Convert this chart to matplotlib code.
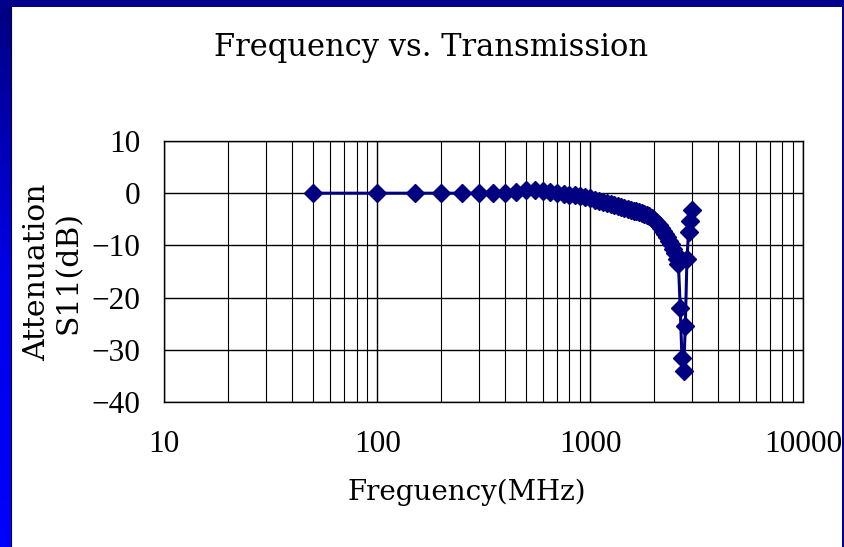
import numpy as np
import matplotlib
matplotlib.use("Agg")
import matplotlib.pyplot as plt
from matplotlib.colors import LinearSegmentedColormap

# measured points (MHz, dB)
freq = [50, 100, 150, 200, 250, 300, 350, 400, 450, 500,
        550, 600, 650, 700, 750, 800, 850, 900, 950, 1000,
        1050, 1100, 1150, 1200, 1250, 1300, 1350, 1400, 1450, 1500,
        1550, 1600, 1650, 1700, 1750, 1800, 1850, 1900, 1950, 2000,
        2050, 2100, 2150, 2200, 2250, 2300, 2350, 2400, 2450, 2500,
        2550, 2600, 2650, 2700, 2750, 2800, 2850, 2900, 2950, 3000]
s11 = [0.0, 0.0, 0.0, 0.0, 0.0, 0.0, 0.05, 0.1, 0.2, 0.6,
       0.7, 0.4, 0.2, 0.0, -0.1, -0.3, -0.4, -0.5, -0.8, -1.0,
       -1.3, -1.5, -1.7, -1.9, -2.1, -2.3, -2.4, -2.6, -2.8, -3.0,
       -3.2, -3.4, -3.5, -3.6, -3.7, -3.9, -4.1, -4.4, -4.8, -5.2,
       -5.6, -6.1, -6.6, -7.2, -7.8, -8.4, -9.1, -9.8, -10.6, -11.5,
       -12.6, -13.6, -21.9, -31.5, -34.0, -25.5, -12.7, -7.5, -5.3, -3.3]

xticks = [10, 100, 1000, 10000]
xticklabels = ["10", "100", "1000", "10000"]
yticks = [-40, -30, -20, -10, 0, 10]

title = "Frequency vs. Transmission"
xlabel = "Freguency(MHz)"
ylabel = "Attenuation\nS11(dB)"

plt.rcParams['font.family'] = ['DejaVu Serif', 'Liberation Serif']

W, H = 844, 547
fig = plt.figure(figsize=(W / 100, H / 100), dpi=100)

# slide-style frame: blue bars on the top, left and right
bg = fig.add_axes([0, 0, 1, 1], zorder=-10)
bg.set_xlim(0, W)
bg.set_ylim(H, 0)
bg.axis("off")
side = LinearSegmentedColormap.from_list("side", ["#000080", "#0000e8", "#0000ff"])
grad = np.linspace(0, 1, 200).reshape(-1, 1)
bg.imshow(grad, cmap=side, extent=(0, 11, H, 0), aspect="auto")
bg.add_patch(plt.Rectangle((0, 0), W, 7, color="#00008c", lw=0))
bg.add_patch(plt.Rectangle((842, 0), 2, H, color="#00008c", lw=0))
bg.plot([11, 11], [7, H], color="#000040", lw=0.8)

ax = fig.add_axes([164.3 / W, 1 - 402 / H, (803 - 164.3) / W, 261 / H])
ax.plot(freq, s11, color="#000080", lw=2.2, marker="D", ms=9,
        markeredgecolor="#000080", markerfacecolor="#000080")

ax.set_xscale("log")
ax.set_xlim(10, 10000)
ax.set_ylim(-40, 10)
ax.set_xticks(xticks)
ax.set_xticklabels(xticklabels)
ax.set_yticks(yticks)
ax.xaxis.set_minor_locator(matplotlib.ticker.LogLocator(base=10, subs=np.arange(2, 10)))
ax.xaxis.set_minor_formatter(matplotlib.ticker.NullFormatter())

ax.grid(True, which="major", color="black", lw=1.0)
ax.grid(True, which="minor", axis="x", color="black", lw=0.8)
ax.set_axisbelow(True)
for sp in ax.spines.values():
    sp.set_color("black")
    sp.set_linewidth(1.0)

ax.tick_params(axis="both", which="both", length=0)
ax.tick_params(axis="x", pad=20)
ax.tick_params(axis="y", pad=17)
for lab in ax.get_xticklabels() + ax.get_yticklabels():
    lab.set_fontfamily(['Liberation Serif', 'DejaVu Serif'])
    lab.set_fontsize(22.5)

fig.text(431 / W, 1 - 48 / H, title, ha="center", va="center", fontsize=22)
fig.text(467 / W, 1 - 492 / H, xlabel, ha="center", va="center", fontsize=20)
fig.text(53 / W, 1 - 272 / H, ylabel, ha="center", va="center", fontsize=21.5,
         rotation=90, multialignment="center", linespacing=1.15)

fig.savefig("out.png", dpi=100)
